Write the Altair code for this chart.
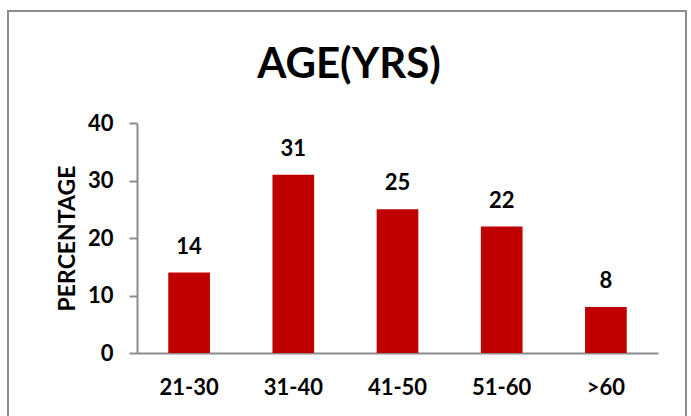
import altair as alt
import pandas as pd

categories = ["21-30", "31-40", "41-50", "51-60", ">60"]
values = [14, 31, 25, 22, 8]
y_ticks = [0, 10, 20, 30, 40]
chart_title = "AGE(YRS)"

df = pd.DataFrame({"age": categories, "pct": values})

FONT = "Lato"
W, H = 521, 230
PAD_L, PAD_T = 137, 123

x_enc = alt.X("age:N", sort=categories, title=None,
              scale=alt.Scale(paddingInner=0.6, paddingOuter=0.3),
              axis=alt.Axis(labelAngle=0, labelFont=FONT, labelFontSize=22,
                            labelFontWeight="bold", labelColor="#000000",
                            labelPadding=24, ticks=False, domainColor="#8c8c8c",
                            domainWidth=2))
y_enc = alt.Y("pct:Q", title="PERCENTAGE",
              scale=alt.Scale(domain=[0, 40], nice=False),
              axis=alt.Axis(values=y_ticks, grid=False, labelFont=FONT,
                            labelFontSize=22, labelFontWeight="bold",
                            labelColor="#000000", labelPadding=16,
                            tickSize=8, tickColor="#8c8c8c", tickWidth=2,
                            domainColor="#8c8c8c", domainWidth=2,
                            titleFont=FONT, titleFontSize=23,
                            titleFontWeight="bold", titleColor="#000000",
                            titlePadding=8))

bars = alt.Chart(df).mark_bar(color="#C00000").encode(x=x_enc, y=y_enc)
labels = alt.Chart(df).mark_text(
    font=FONT, fontSize=22, fontWeight="bold", color="#000000",
    baseline="alphabetic", dy=-19
).encode(x=alt.X("age:N", sort=categories), y="pct:Q", text="pct:Q")

border = alt.Chart(df).mark_rect(
    fill=None, stroke="#8c8c8c", strokeWidth=2
).encode(
    x=alt.value(8 - PAD_L), x2=alt.value(686 - PAD_L),
    y=alt.value(11 - PAD_T), y2=alt.value(440 - PAD_T)
)

title = alt.Chart(pd.DataFrame({"t": [chart_title]})).mark_text(
    font=FONT, fontSize=42, fontWeight="bold", color="#000000",
    baseline="alphabetic", align="center"
).encode(x=alt.value(349 - PAD_L), y=alt.value(78 - PAD_T), text="t:N")

chart = alt.layer(border, bars, labels, title).properties(
    width=W, height=H,
    background="#ffffff",
    autosize=alt.AutoSizeParams(type="none"),
    padding={"left": PAD_L, "top": PAD_T, "right": 691 - PAD_L - W,
             "bottom": 416 - PAD_T - H},
).configure_view(strokeWidth=0, stroke="transparent")

chart.save("out.html", embed_options={"renderer": "svg", "actions": False})
